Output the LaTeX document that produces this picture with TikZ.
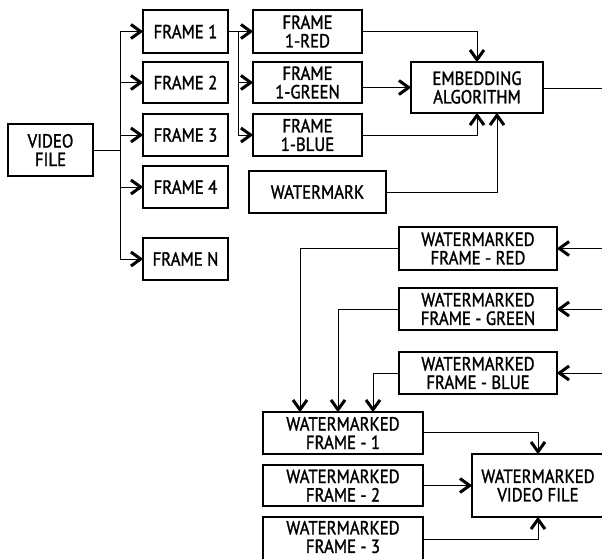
\documentclass[tikz,border=0pt]{standalone}
\usepackage{fontspec}
\setmainfont[FakeStretch=0.88,FakeBold=1.4]{PT Sans}
\begin{document}
\begin{tikzpicture}[x=1pt,y=-1pt,
  box/.style={draw, line width=1.1pt, inner sep=0pt, align=center,
    font=\fontsize{19}{18.5}\selectfont},
  ln/.style={line width=1pt},
  chev/.pic={\draw[line width=3pt, miter limit=10, line cap=butt] (-11.5,7) -- (-1.8,0) -- (-11.5,-7);}]
\useasboundingbox (0,0) rectangle (602,558);
\clip (0,0) rectangle (602,558);
\fill[white] (0,0) rectangle (602,558);
% left column
\node[box, minimum width=85, minimum height=52] (vf) at (50.5,150) {VIDEO\\FILE};
\node[box, minimum width=85, minimum height=43] (f1) at (185.5,31.5) {FRAME 1};
\node[box, minimum width=85, minimum height=41] (f2) at (185.5,82.5) {FRAME 2};
\node[box, minimum width=85, minimum height=42] (f3) at (185.5,135) {FRAME 3};
\node[box, minimum width=85, minimum height=42] (f4) at (185.5,187) {FRAME 4};
\node[box, minimum width=85, minimum height=42] (fn) at (185.5,259) {FRAME N};
% colour planes
\node[box, minimum width=109, minimum height=43] (red) at (307.5,31.5) {FRAME\\1-RED};
\node[box, minimum width=109, minimum height=41] (green) at (307.5,82.5) {FRAME\\1-GREEN};
\node[box, minimum width=109, minimum height=42] (blue) at (307.5,135) {FRAME\\1-BLUE};
\node[box, minimum width=137, minimum height=42] (wm) at (317.5,192) {WATERMARK};
\node[box, minimum width=132, minimum height=51] (emb) at (477,87.5) {EMBEDDING\\ALGORITHM};
% watermarked planes
\node[box, minimum width=158, minimum height=43] (wred) at (478,248.5) {WATERMARKED\\FRAME - RED};
\node[box, minimum width=158, minimum height=42] (wgreen) at (478,309) {WATERMARKED\\FRAME - GREEN};
\node[box, minimum width=158, minimum height=42] (wblue) at (478,373) {WATERMARKED\\FRAME - BLUE};
\node[box, minimum width=160, minimum height=42] (w1) at (343,433) {WATERMARKED\\FRAME - 1};
\node[box, minimum width=160, minimum height=41] (w2) at (343,485.5) {WATERMARKED\\FRAME - 2};
\node[box, minimum width=160, minimum height=45] (w3) at (343,539.5) {};
\node[font=\fontsize{19}{18.5}\selectfont, align=center, inner sep=0pt] (w3t) at (343,537) {WATERMARKED\\FRAME - 3};
\node[box, minimum width=132, minimum height=63] (wvf) at (538,485.5) {WATERMARKED\\VIDEO FILE};
% coordinates
\coordinate (tr) at (120,150);
\coordinate (br) at (238,31.5);
\coordinate (embout) at (602,88);
\coordinate (inr) at (602,248.5);
\coordinate (ing) at (602,309);
\coordinate (inb) at (602,373);
\coordinate (e1) at ([xshift=0pt]emb.south);
\coordinate (e2) at ([xshift=20pt]emb.south);
\coordinate (t1) at (300,0 |- w1.north);
\coordinate (t2) at (338,0 |- w1.north);
\coordinate (t3) at (373,0 |- w1.north);
% video file to frames
\draw[ln] (vf.east |- tr) -- (tr);
\draw[ln] (tr |- f1.west) -- (tr |- fn.west);
\foreach \n in {f1,f2,f3,f4,fn} {\draw[ln] (tr |- \n.west) -- (\n.west); \pic at (\n.west) {chev};}
% frame 1 to colour planes
\draw[ln] (f1.east) -- (br) -- (br |- blue.west);
\foreach \n in {red,green,blue} {\draw[ln] (br |- \n.west) -- (\n.west); \pic at (\n.west) {chev};}
% into embedding
\draw[ln] (red.east) -| (emb.north); \pic[rotate=-90] at (emb.north) {chev};
\draw[ln] (green.east |- emb.west) -- (emb.west); \pic at (emb.west) {chev};
\draw[ln] (blue.east) -| (e1); \pic[rotate=90] at (e1) {chev};
\draw[ln] (wm.east) -| (e2); \pic[rotate=90] at (e2) {chev};
\draw[ln] (emb.east |- embout) -- (embout);
% into watermarked planes
\draw[ln] (inr) -- (wred.east); \pic[rotate=180] at (wred.east) {chev};
\draw[ln] (ing) -- (wgreen.east); \pic[rotate=180] at (wgreen.east) {chev};
\draw[ln] (inb) -- (wblue.east); \pic[rotate=180] at (wblue.east) {chev};
% planes to watermarked frame 1
\draw[ln] (wred.west) -| (t1); \pic[rotate=-90] at (t1) {chev};
\draw[ln] (wgreen.west) -| (t2); \pic[rotate=-90] at (t2) {chev};
\draw[ln] (wblue.west) -| (t3); \pic[rotate=-90] at (t3) {chev};
% frames to watermarked video file
\draw[ln] (w1.east |- 0,432) -| (wvf.north); \pic[rotate=-90] at (wvf.north) {chev};
\draw[ln] (w2.east) -- (w2.east -| wvf.west); \pic at (w2.east -| wvf.west) {chev};
\draw[ln] (w3.east |- 0,539) -| (wvf.south); \pic[rotate=90] at (wvf.south) {chev};
\end{tikzpicture}
\end{document}
